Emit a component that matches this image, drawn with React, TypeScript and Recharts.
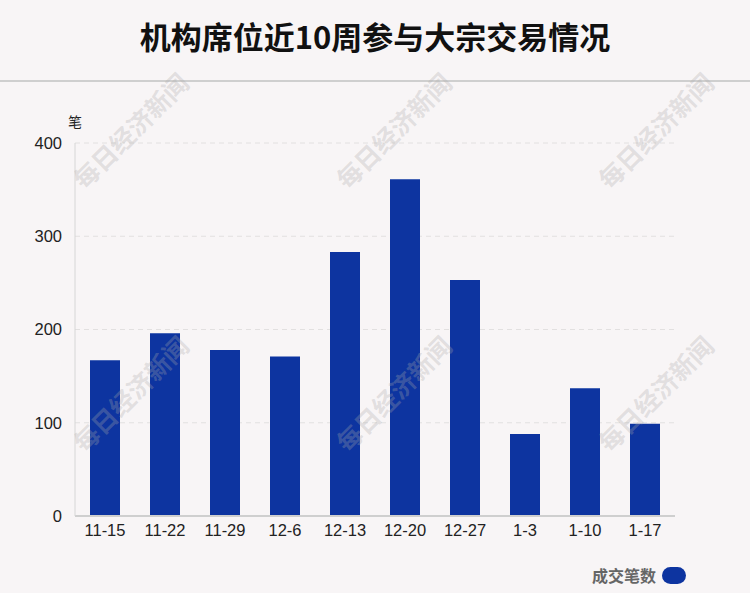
import { BarChart, Bar, XAxis, YAxis, CartesianGrid } from "recharts";

const weeks = ["11-15", "11-22", "11-29", "12-6", "12-13", "12-20", "12-27", "1-3", "1-10", "1-17"];
const dealCounts = [167, 196, 178, 171, 283, 361, 253, 88, 137, 99];
const yTicks = [0, 100, 200, 300, 400];

const BAR_COLOR = "#0d34a0";
const FONT = "'Liberation Sans', Arial, 'Noto Sans CJK SC', sans-serif";

const chartData = weeks.map((week, i) => ({ week, count: dealCounts[i] }));

const watermarkSpots = [
  [130, 130],
  [393, 130],
  [655, 130],
  [130, 393],
  [393, 393],
  [655, 393],
];

export default function App() {
  return (
    <div
      style={{
        position: "absolute",
        left: 0,
        top: 0,
        width: 750,
        height: 593,
        background: "#f8f5f6",
        fontFamily: FONT,
        overflow: "hidden",
      }}
    >
      <div
        style={{
          position: "absolute",
          top: 14,
          width: 750,
          textAlign: "center",
          fontSize: 31,
          fontWeight: "bold",
          color: "#111",
          fontFamily: "'Noto Sans CJK SC', sans-serif",
          lineHeight: "44px",
        }}
      >
        机构席位近10周参与大宗交易情况
      </div>
      <div style={{ position: "absolute", top: 80, left: 0, width: 750, height: 2, background: "#cfcfcf" }} />

      <div
        style={{
          position: "absolute",
          left: 68,
          top: 111,
          fontSize: 14,
          color: "#222",
          fontFamily: "'Noto Sans CJK SC', sans-serif",
        }}
      >
        笔
      </div>

      <div style={{ position: "absolute", left: 0, top: 100 }}>
        <BarChart
          width={750}
          height={450}
          data={chartData}
          margin={{ top: 43, right: 75, bottom: 4, left: 15 }}
          barCategoryGap={30}
        >
          <CartesianGrid vertical={false} stroke="#e2e0e0" strokeDasharray="5 4" />
          <XAxis
            dataKey="week"
            tickLine={false}
            axisLine={{ stroke: "#cfcfcf", strokeWidth: 2 }}
            tick={{ fill: "#222", fontSize: 16.5, fontFamily: FONT }}
            height={30}
            interval={0}
          />
          <YAxis
            domain={[0, 400]}
            ticks={yTicks}
            tickLine={false}
            tickSize={10}
            tickMargin={3}
            axisLine={{ stroke: "#d6d6d6" }}
            tick={{ fill: "#222", fontSize: 16.5, fontFamily: FONT }}
            width={60}
          />
          <Bar dataKey="count" fill={BAR_COLOR} barSize={30} isAnimationActive={false} />
        </BarChart>
      </div>

      {watermarkSpots.map(([x, y], i) => (
        <div
          key={i}
          style={{
            position: "absolute",
            left: x - 90,
            top: y - 16,
            width: 180,
            textAlign: "center",
            fontSize: 25,
            fontWeight: "bold",
            lineHeight: "32px",
            color: "rgba(170,170,170,0.3)",
            fontFamily: "'Noto Sans CJK SC', serif",
            transform: "rotate(-45deg)",
            pointerEvents: "none",
          }}
        >
          每日经济新闻
        </div>
      ))}

      <div
        style={{
          position: "absolute",
          left: 592,
          top: 563,
          display: "flex",
          alignItems: "center",
          gap: 6,
        }}
      >
        <span
          style={{
            fontSize: 16,
            fontWeight: "bold",
            color: "#666",
            fontFamily: "'Noto Sans CJK SC', sans-serif",
          }}
        >
          成交笔数
        </span>
        <span
          style={{
            display: "inline-block",
            width: 24,
            height: 17,
            borderRadius: 9,
            background: BAR_COLOR,
          }}
        />
      </div>
    </div>
  );
}
